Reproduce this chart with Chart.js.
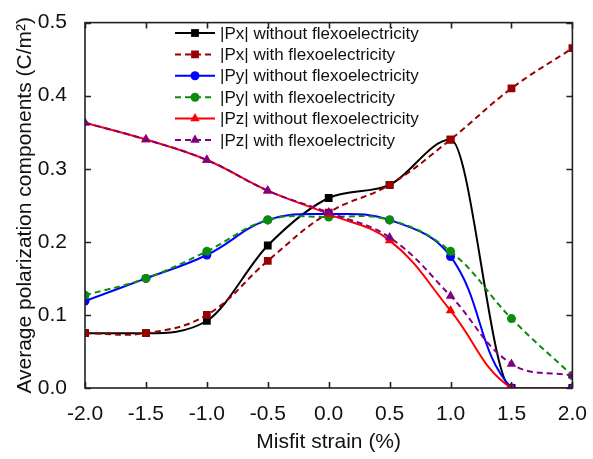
<!DOCTYPE html>
<html>
<head>
<meta charset="utf-8">
<title>Average polarization components</title>
<script src="https://cdn.jsdelivr.net/npm/chart.js@4/dist/chart.umd.min.js"></script>
<style>
    html, body { margin: 0; padding: 0; background: #fff; }
    #wrap { width: 593px; height: 459px; }
</style>
</head>
<body>
<div id="wrap"><canvas id="myChart" width="593" height="459"></canvas></div>
<script>
// --- Dados ---
const strain = [-2.0, -1.5, -1.0, -0.5, 0.0, 0.5, 1.0, 1.5, 2.0];
const pxWithout = [0.075, 0.075, 0.092, 0.195, 0.260, 0.278, 0.340, 0.0, 0.0];
const pxWith = [0.075, 0.075, 0.100, 0.174, 0.240, 0.278, 0.340, 0.410, 0.465];
const pyWithout = [0.119, 0.150, 0.182, 0.230, 0.238, 0.230, 0.180, 0.0, 0.0];
const pyWith = [0.127, 0.150, 0.187, 0.230, 0.234, 0.230, 0.187, 0.095, 0.017];
const pzWithout = [0.363, 0.340, 0.312, 0.270, 0.238, 0.202, 0.106, 0.0, 0.0];
const pzWith = [0.363, 0.340, 0.312, 0.270, 0.240, 0.206, 0.126, 0.033, 0.017];

const seriesLabels = [
    '|Px| without flexoelectricity',
    '|Px| with flexoelectricity',
    '|Py| without flexoelectricity',
    '|Py| with flexoelectricity',
    '|Pz| without flexoelectricity',
    '|Pz| with flexoelectricity'
];
const seriesValues = [pxWithout, pxWith, pyWithout, pyWith, pzWithout, pzWith];
const seriesColors = ['#000000', '#990000', '#0000ff', '#0b8c0b', '#ff0000', '#800080'];
const seriesDashed = [false, true, false, true, false, true];
const seriesMarkers = ['rect', 'rect', 'circle', 'circle', 'triangle', 'triangle'];
const seriesMonotone = [true, false, false, false, false, false];
const markerSizes = { rect: 5.5, circle: 4.5, triangle: 5.5 };

const xTicks = [-2.0, -1.5, -1.0, -0.5, 0.0, 0.5, 1.0, 1.5, 2.0];
const yTicks = [0.0, 0.1, 0.2, 0.3, 0.4, 0.5];

const FONT = 'Arial, "Liberation Sans", sans-serif';
const TEXT_COLOR = '#111';
const DASH = [6, 4];

const datasets = seriesValues.map((values, i) => ({
    label: seriesLabels[i],
    data: values.map((v, j) => ({ x: strain[j], y: v })),
    borderColor: seriesColors[i],
    backgroundColor: seriesColors[i],
    borderWidth: 2,
    borderDash: seriesDashed[i] ? DASH : [],
    pointStyle: seriesMarkers[i],
    pointRadius: markerSizes[seriesMarkers[i]],
    pointBorderWidth: 0,
    tension: 0.4,
    cubicInterpolationMode: seriesMonotone[i] ? 'monotone' : 'default',
    order: seriesValues.length - 1 - i   // o último (roxo) fica por cima, como no original
}));

// Moldura com ticks para dentro nos 4 lados + legenda
const framePlugin = {
    id: 'frame',
    afterDraw(chart) {
        const { ctx, chartArea: a, scales } = chart;
        const tick = 6;
        ctx.save();
        ctx.strokeStyle = '#222';
        ctx.lineWidth = 1.6;
        ctx.setLineDash([]);
        ctx.strokeRect(a.left, a.top, a.right - a.left, a.bottom - a.top);
        ctx.beginPath();
        xTicks.forEach(v => {
            const px = Math.round(scales.x.getPixelForValue(v)) + 0.5;
            ctx.moveTo(px, a.bottom); ctx.lineTo(px, a.bottom - tick);
            ctx.moveTo(px, a.top); ctx.lineTo(px, a.top + tick);
        });
        yTicks.forEach(v => {
            const py = Math.round(scales.y.getPixelForValue(v)) + 0.5;
            ctx.moveTo(a.left, py); ctx.lineTo(a.left + tick, py);
            ctx.moveTo(a.right, py); ctx.lineTo(a.right - tick, py);
        });
        ctx.stroke();

        // Legenda
        const x0 = 175, x1 = 215, xm = 195, xt = 220;
        ctx.font = '17px ' + FONT;
        ctx.textBaseline = 'middle';
        ctx.textAlign = 'left';
        seriesLabels.forEach((label, i) => {
            const y = 33 + i * 21.4;
            ctx.strokeStyle = seriesColors[i];
            ctx.lineWidth = 2;
            ctx.setLineDash(seriesDashed[i] ? DASH : []);
            ctx.beginPath();
            ctx.moveTo(x0, y); ctx.lineTo(x1, y);
            ctx.stroke();
            ctx.setLineDash([]);
            ctx.fillStyle = seriesColors[i];
            Chart.helpers.drawPoint(ctx, {
                pointStyle: seriesMarkers[i],
                radius: markerSizes[seriesMarkers[i]],
                borderWidth: 0,
                rotation: 0
            }, xm, y);
            ctx.fillStyle = TEXT_COLOR;
            ctx.fillText(label, xt, y + 1);
        });
        ctx.restore();
    }
};

const ctx = document.getElementById('myChart').getContext('2d');
new Chart(ctx, {
    type: 'line',
    data: { datasets: datasets },
    options: {
        responsive: false,
        animation: false,
        devicePixelRatio: 1,
        layout: { padding: { left: 0, right: 17, top: 22, bottom: 0 } },
        plugins: {
            legend: { display: false },
            tooltip: { enabled: false }
        },
        scales: {
            x: {
                type: 'linear',
                min: -2.0,
                max: 2.0,
                afterFit: s => { s.height = 71; },
                afterBuildTicks: s => { s.ticks = xTicks.map(v => ({ value: v })); },
                grid: { display: false },
                border: { display: false },
                ticks: {
                    padding: 6,
                    color: TEXT_COLOR,
                    font: { family: FONT, size: 21 },
                    maxRotation: 0,
                    callback: v => v.toFixed(1)
                },
                title: {
                    display: true,
                    text: 'Misfit strain (%)',
                    color: TEXT_COLOR,
                    font: { family: FONT, size: 21 },
                    padding: { top: 0, bottom: 4 }
                }
            },
            y: {
                type: 'linear',
                min: 0,
                max: 0.5,
                afterFit: s => { s.width = 85; },
                afterBuildTicks: s => { s.ticks = yTicks.map(v => ({ value: v })); },
                grid: { display: false },
                border: { display: false },
                ticks: {
                    padding: 10,
                    color: TEXT_COLOR,
                    font: { family: FONT, size: 21 },
                    callback: v => v.toFixed(1)
                },
                title: {
                    display: true,
                    text: 'Average polarization components (C/m²)',
                    color: TEXT_COLOR,
                    font: { family: FONT, size: 21 },
                    padding: { top: 13, bottom: 0 }
                }
            }
        }
    },
    plugins: [framePlugin]
});
</script>
</body>
</html>
